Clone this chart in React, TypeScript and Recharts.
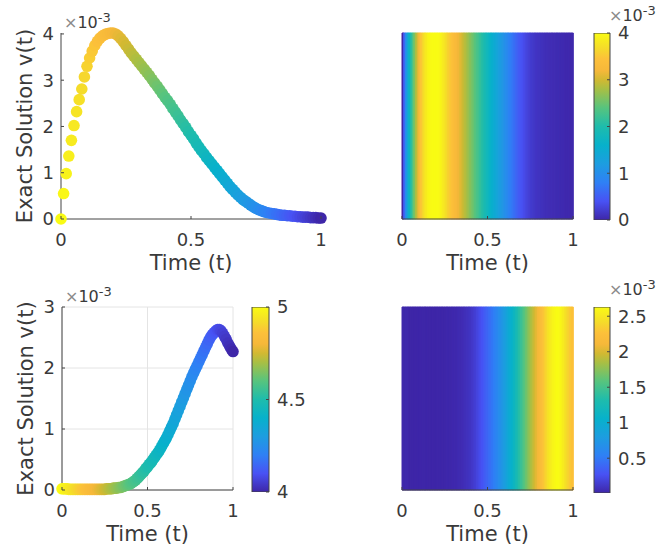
import React from 'react';
import { ScatterChart, Scatter, XAxis, YAxis, CartesianGrid, BarChart, Bar, Cell, Label } from 'recharts';

// ---------- data ----------
const T = [
  0.00, 0.01, 0.02, 0.03, 0.04, 0.05, 0.06, 0.07, 0.08, 0.09,
  0.10, 0.11, 0.12, 0.13, 0.14, 0.15, 0.16, 0.17, 0.18, 0.19,
  0.20, 0.21, 0.22, 0.23, 0.24, 0.25, 0.26, 0.27, 0.28, 0.29,
  0.30, 0.31, 0.32, 0.33, 0.34, 0.35, 0.36, 0.37, 0.38, 0.39,
  0.40, 0.41, 0.42, 0.43, 0.44, 0.45, 0.46, 0.47, 0.48, 0.49,
  0.50, 0.51, 0.52, 0.53, 0.54, 0.55, 0.56, 0.57, 0.58, 0.59,
  0.60, 0.61, 0.62, 0.63, 0.64, 0.65, 0.66, 0.67, 0.68, 0.69,
  0.70, 0.71, 0.72, 0.73, 0.74, 0.75, 0.76, 0.77, 0.78, 0.79,
  0.80, 0.81, 0.82, 0.83, 0.84, 0.85, 0.86, 0.87, 0.88, 0.89,
  0.90, 0.91, 0.92, 0.93, 0.94, 0.95, 0.96, 0.97, 0.98, 0.99,
  1.00,
];

// v(t), first case (units of 1e-3)
const V1 = [
  0.00, 0.55, 0.98, 1.36, 1.70, 2.02, 2.32, 2.58, 2.81, 3.07,
  3.30, 3.48, 3.63, 3.75, 3.84, 3.91, 3.96, 3.99, 4.01, 4.02,
  4.02, 4.00, 3.96, 3.90, 3.83, 3.75, 3.67, 3.59, 3.52, 3.45,
  3.38, 3.31, 3.24, 3.17, 3.10, 3.02, 2.94, 2.87, 2.79, 2.71,
  2.63, 2.56, 2.48, 2.39, 2.31, 2.23, 2.14, 2.06, 1.98, 1.89,
  1.81, 1.73, 1.64, 1.56, 1.48, 1.41, 1.33, 1.26, 1.19, 1.12,
  1.05, 0.98, 0.91, 0.84, 0.77, 0.70, 0.64, 0.58, 0.52, 0.47,
  0.42, 0.38, 0.34, 0.30, 0.26, 0.23, 0.20, 0.18, 0.16, 0.14,
  0.13, 0.12, 0.11, 0.10, 0.09, 0.08, 0.08, 0.07, 0.07, 0.06,
  0.06, 0.05, 0.05, 0.04, 0.04, 0.04, 0.03, 0.03, 0.03, 0.02,
  0.02,
];

// v(t), second case (units of 1e-3)
const V2 = [
  0.02, 0.02, 0.02, 0.02, 0.01, 0.01, 0.01, 0.01, 0.01, 0.01,
  0.01, 0.01, 0.01, 0.01, 0.01, 0.01, 0.01, 0.01, 0.01, 0.01,
  0.01, 0.01, 0.01, 0.01, 0.01, 0.01, 0.02, 0.02, 0.02, 0.02,
  0.03, 0.03, 0.03, 0.04, 0.04, 0.05, 0.06, 0.07, 0.08, 0.09,
  0.10, 0.12, 0.14, 0.16, 0.19, 0.22, 0.25, 0.28, 0.31, 0.35,
  0.38, 0.42, 0.45, 0.49, 0.53, 0.57, 0.61, 0.65, 0.70, 0.75,
  0.80, 0.85, 0.91, 0.97, 1.03, 1.09, 1.16, 1.23, 1.30, 1.37,
  1.44, 1.51, 1.58, 1.65, 1.72, 1.79, 1.86, 1.92, 1.98, 2.04,
  2.10, 2.16, 2.22, 2.28, 2.34, 2.40, 2.46, 2.51, 2.55, 2.58,
  2.61, 2.63, 2.63, 2.61, 2.57, 2.52, 2.47, 2.41, 2.36, 2.31,
  2.27,
];

const X_TICKS = [0, 0.5, 1];
const Y1_TICKS = [0, 1, 2, 3, 4];
const Y2_TICKS = [0, 1, 2, 3];
const CB1_TICKS = [0, 1, 2, 3, 4];
const CB2_TICKS = [4, 4.5, 5];
const CB3_TICKS = [0.5, 1, 1.5, 2, 2.5];
const Y1_DOMAIN = [0, 4];
const Y2_DOMAIN = [0, 3];
const CB1_RANGE = [0, 4];
const CB2_RANGE = [4, 5];
const CB3_RANGE = [Math.min(...V2), Math.max(...V2)];
const X_LABEL = 'Time (t)';
const Y_LABEL = 'Exact Solution v(t)';
const EXP_BASE = '10';
const EXP_POW = '-3';

// ---------- style ----------
const W = 659;
const H = 549;
const TXT = '#3a3a3a';
const AX = '#444444';
const FONT = '"DejaVu Sans", Verdana, sans-serif';
const TICK_FS = 18;
const LABEL_FS = 21;
const DOT_R = 5.8;

const PARULA: [number, string][] = [
  [0.0, '#3e26a8'],
  [0.1, '#4852f4'],
  [0.2, '#2f80f5'],
  [0.3, '#1d9de0'],
  [0.4, '#07b1cb'],
  [0.5, '#1ebcac'],
  [0.6, '#57c47e'],
  [0.7, '#a8bf44'],
  [0.75, '#d2b932'],
  [0.8, '#f6b83a'],
  [0.86, '#fcc03a'],
  [0.92, '#f5dc2a'],
  [1.0, '#f9fb14'],
];

function hex(c: string): number[] {
  return [1, 3, 5].map((i) => parseInt(c.slice(i, i + 2), 16));
}

function parula(x: number): string {
  const v = Math.max(0, Math.min(1, x));
  for (let i = 1; i < PARULA.length; i++) {
    const [o1, c1] = PARULA[i];
    if (v <= o1) {
      const [o0, c0] = PARULA[i - 1];
      const f = (v - o0) / (o1 - o0);
      const a = hex(c0);
      const b = hex(c1);
      const m = a.map((av, k) => Math.round(av + (b[k] - av) * f));
      return `rgb(${m[0]},${m[1]},${m[2]})`;
    }
  }
  return PARULA[PARULA.length - 1][1];
}

// ---------- renderers ----------
const xTick = (margin: number) => (p: any) => {
  const ay = p.y - margin;
  return (
    <g>
      <line x1={p.x} x2={p.x} y1={ay} y2={ay - 3} stroke={AX} strokeWidth={1} />
      <text x={p.x} y={p.y} dy="0.71em" textAnchor="middle" fontSize={TICK_FS} fill={TXT} fontFamily={FONT}>
        {String(p.payload.value)}
      </text>
    </g>
  );
};

const yTick = (margin: number) => (p: any) => {
  const ax = p.x + margin;
  return (
    <g>
      <line x1={ax} x2={ax + 3} y1={p.y} y2={p.y} stroke={AX} strokeWidth={1} />
      <text x={p.x} y={p.y} dy="0.355em" textAnchor="end" fontSize={TICK_FS} fill={TXT} fontFamily={FONT}>
        {String(p.payload.value)}
      </text>
    </g>
  );
};

const cbTick = (margin: number) => (p: any) => {
  const ax = p.x - margin;
  return (
    <g>
      <line x1={ax} x2={ax - 3} y1={p.y} y2={p.y} stroke={AX} strokeWidth={1} />
      <text x={p.x} y={p.y} dy="0.355em" textAnchor="start" fontSize={TICK_FS} fill={TXT} fontFamily={FONT}>
        {String(p.payload.value)}
      </text>
    </g>
  );
};

const expText = (x: number, y: number) => (
  <text x={x} y={y} fontSize={16} fill={TXT} fontFamily={FONT}>
    <tspan fill="#8a8a8a">×</tspan>
    <tspan>{EXP_BASE}</tspan>
    <tspan dy={-6} fontSize={13}>{EXP_POW}</tspan>
  </text>
);

const xLabelAt = (cx: number, axisY: number) => () => (
  <text x={cx} y={axisY + 51} textAnchor="middle" fontSize={LABEL_FS} fill={TXT} fontFamily={FONT}>
    {X_LABEL}
  </text>
);

const yLabelAt = (axisX: number, top: number, bottom: number) => () => {
  const cx = axisX - 29;
  const cy = (top + bottom) / 2;
  return (
    <g>
      <text x={cx} y={cy} transform={`rotate(-90, ${cx}, ${cy})`} textAnchor="middle" fontSize={LABEL_FS} fill={TXT} fontFamily={FONT}>
        {Y_LABEL}
      </text>
      {expText(axisX + 3, top - 5)}
    </g>
  );
};

const cbExpAt = (axisX: number, top: number) => () => expText(axisX - 1, top - 12);

const dot = (p: any) => (
  <circle cx={p.cx} cy={p.cy} r={DOT_R} fill={parula(1 - p.payload.t)} />
);

const Layer = ({ children }: { children: React.ReactNode }) => (
  <div style={{ position: 'absolute', left: 0, top: 0 }}>{children}</div>
);

type Box = { left: number; top: number; right: number; bottom: number };

function Curve({ box, vals, domain, ticks, grid }: { box: Box; vals: number[]; domain: number[]; ticks: number[]; grid?: boolean }) {
  const pts = T.map((t, i) => ({ t, v: vals[i] }));
  return (
    <ScatterChart width={W} height={H} margin={{ top: box.top, left: 0, right: W - box.right, bottom: 0 }}>
      {grid && <CartesianGrid stroke="#e4e4e4" strokeWidth={1} />}
      <XAxis
        type="number"
        dataKey="t"
        domain={[0, 1]}
        ticks={X_TICKS}
        interval={0}
        height={H - box.bottom}
        tickSize={0}
        tickMargin={14}
        tickLine={false}
        axisLine={{ stroke: AX }}
        tick={xTick(14)}
      >
        <Label content={xLabelAt((box.left + box.right) / 2, box.bottom)} />
      </XAxis>
      <YAxis
        type="number"
        dataKey="v"
        domain={domain}
        ticks={ticks}
        interval={0}
        width={box.left}
        tickSize={0}
        tickMargin={7}
        tickLine={false}
        axisLine={{ stroke: AX }}
        tick={yTick(7)}
      >
        <Label content={yLabelAt(box.left, box.top, box.bottom)} />
      </YAxis>
      <Scatter data={pts} shape={dot} isAnimationActive={false} />
    </ScatterChart>
  );
}

function Heatmap({ box, vals, range }: { box: Box; vals: number[]; range: number[] }) {
  const data = T.map((t, i) => ({ t, v: vals[i], span: [0, 1] }));
  return (
    <BarChart
      width={W}
      height={H}
      data={data}
      barCategoryGap={0}
      barGap={0}
      margin={{ top: box.top, left: box.left, right: W - box.right, bottom: 0 }}
    >
      <XAxis
        xAxisId="num"
        dataKey="t"
        type="number"
        domain={[0, 1]}
        ticks={X_TICKS}
        interval={0}
        height={H - box.bottom}
        tickSize={0}
        tickMargin={14}
        tickLine={false}
        axisLine={{ stroke: AX }}
        tick={xTick(14)}
      >
        <Label content={xLabelAt((box.left + box.right) / 2, box.bottom)} />
      </XAxis>
      <XAxis xAxisId="cat" dataKey="t" type="category" hide height={0} />
      <YAxis type="number" domain={[0, 1]} hide width={0} />
      <Bar xAxisId="cat" dataKey="span" isAnimationActive={false}>
        {data.map((d, i) => {
          const c = parula((d.v - range[0]) / (range[1] - range[0]));
          return <Cell key={i} fill={c} stroke={c} strokeWidth={1} />;
        })}
      </Bar>
    </BarChart>
  );
}

function Colorbar({ id, box, range, ticks, exp }: { id: string; box: Box; range: number[]; ticks: number[]; exp?: boolean }) {
  const data = [{ k: 'cb', r: range }];
  return (
    <BarChart
      width={W}
      height={H}
      data={data}
      barCategoryGap={0}
      margin={{ top: box.top, left: box.left, right: 0, bottom: H - box.bottom }}
    >
      <defs>
        <linearGradient id={id} x1="0" y1="1" x2="0" y2="0">
          {PARULA.map(([o, c]) => (
            <stop key={o} offset={o} stopColor={c} />
          ))}
        </linearGradient>
      </defs>
      <XAxis dataKey="k" hide height={0} />
      <YAxis
        orientation="right"
        type="number"
        domain={range}
        ticks={ticks}
        interval={0}
        width={W - box.right}
        tickSize={0}
        tickMargin={8}
        tickLine={false}
        axisLine={false}
        tick={cbTick(8)}
        allowDataOverflow
      >
        {exp ? <Label content={cbExpAt(box.right, box.top)} /> : null}
      </YAxis>
      <Bar dataKey="r" fill={`url(#${id})`} stroke={AX} strokeWidth={1} isAnimationActive={false} />
    </BarChart>
  );
}

export default function App() {
  return (
    <div
      style={{
        position: 'absolute',
        left: 0,
        top: 0,
        width: W,
        height: H,
        background: '#ffffff',
        fontFamily: FONT,
        overflow: 'hidden',
      }}
    >
      <Layer>
        <Curve box={{ left: 61, top: 33, right: 321, bottom: 219 }} vals={V1} domain={Y1_DOMAIN} ticks={Y1_TICKS} />
      </Layer>
      <Layer>
        <Heatmap box={{ left: 402, top: 33, right: 573, bottom: 219 }} vals={V1} range={CB1_RANGE} />
      </Layer>
      <Layer>
        <Colorbar id="cbTop" box={{ left: 594, top: 33, right: 610, bottom: 220 }} range={CB1_RANGE} ticks={CB1_TICKS} exp />
      </Layer>
      <Layer>
        <Curve box={{ left: 62, top: 307, right: 233, bottom: 490 }} vals={V2} domain={Y2_DOMAIN} ticks={Y2_TICKS} grid />
      </Layer>
      <Layer>
        <Colorbar id="cbBL" box={{ left: 252, top: 307, right: 269, bottom: 492 }} range={CB2_RANGE} ticks={CB2_TICKS} />
      </Layer>
      <Layer>
        <Heatmap box={{ left: 402, top: 307, right: 573, bottom: 490 }} vals={V2} range={CB3_RANGE} />
      </Layer>
      <Layer>
        <Colorbar id="cbBR" box={{ left: 594, top: 307, right: 610, bottom: 493 }} range={CB3_RANGE} ticks={CB3_TICKS} exp />
      </Layer>
    </div>
  );
}
